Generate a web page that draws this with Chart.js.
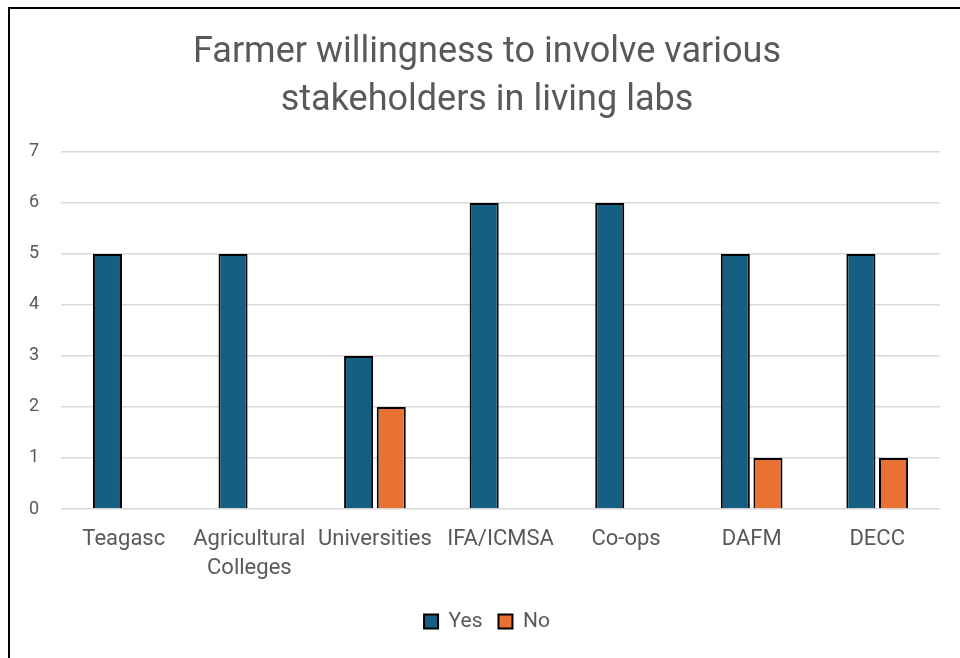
<!DOCTYPE html>
<html>
<head>
<meta charset="utf-8">
<script src="https://cdn.jsdelivr.net/npm/chart.js@4/dist/chart.umd.min.js"></script>
<style>
  html, body { margin: 0; padding: 0; background: #fff; }
  #wrap { position: relative; width: 960px; height: 658px; overflow: hidden; }
  #frame { position: absolute; left: 8px; top: 7px; width: 1000px; height: 700px;
           border-left: 2px solid #000; border-top: 2px solid #000; pointer-events: none; }
  canvas { position: absolute; left: 0; top: 0; }
</style>
</head>
<body>
<div id="wrap">
  <canvas id="c" width="974" height="658"></canvas>
  <div id="frame"></div>
</div>
<script>
const titleLines = ["Farmer willingness to involve various", "stakeholders in living labs"];
const categories = ["Teagasc", ["Agricultural", "Colleges"], "Universities", "IFA/ICMSA", "Co-ops", "DAFM", "DECC"];
const yesValues = [5, 5, 3, 6, 6, 5, 5];
const noValues = [0, 0, 2, 0, 0, 1, 1];
const yTicks = [0, 1, 2, 3, 4, 5, 6, 7];

const FONT = "Roboto, 'Liberation Sans', sans-serif";
const TXT = "#595959";

new Chart(document.getElementById("c"), {
  type: "bar",
  data: {
    labels: categories,
    datasets: [
      { label: "Yes", data: yesValues, backgroundColor: "#156082", borderColor: "#000000", borderWidth: 2,
        barPercentage: 0.89, categoryPercentage: 0.52 },
      { label: "No", data: noValues, backgroundColor: "#E97132", borderColor: "#000000", borderWidth: 2,
        barPercentage: 0.89, categoryPercentage: 0.52 }
    ]
  },
  options: {
    responsive: false,
    animation: false,
    layout: { padding: { left: 34, right: 34, top: 0, bottom: 16 } },
    plugins: {
      title: {
        display: true,
        text: titleLines,
        color: TXT,
        font: { family: FONT, size: 36, weight: "normal", lineHeight: 1.333 },
        padding: { top: 29, bottom: 27 }
      },
      legend: {
        position: "bottom",
        labels: {
          color: TXT,
          font: { family: FONT, size: 21 },
          boxWidth: 14, boxHeight: 14,
          padding: 16
        }
      },
      tooltip: { enabled: false }
    },
    scales: {
      x: {
        grid: { display: false },
        border: { display: false },
        ticks: { color: TXT, font: { family: FONT, size: 22, lineHeight: 1.32 }, padding: 8, maxRotation: 0, autoSkip: false },
        afterFit: (s) => { s.height = 86; }
      },
      y: {
        min: 0, max: 7,
        afterBuildTicks: (s) => { s.ticks = yTicks.map(v => ({ value: v })); },
        grid: { color: "#d9d9d9", lineWidth: 1.5, drawTicks: false },
        border: { display: false },
        ticks: { color: TXT, font: { family: FONT, size: 18 }, mirror: true, crossAlign: "far", padding: -32 },
        afterFit: (s) => { s.width = 27; }
      }
    }
  }
});
</script>
</body>
</html>
